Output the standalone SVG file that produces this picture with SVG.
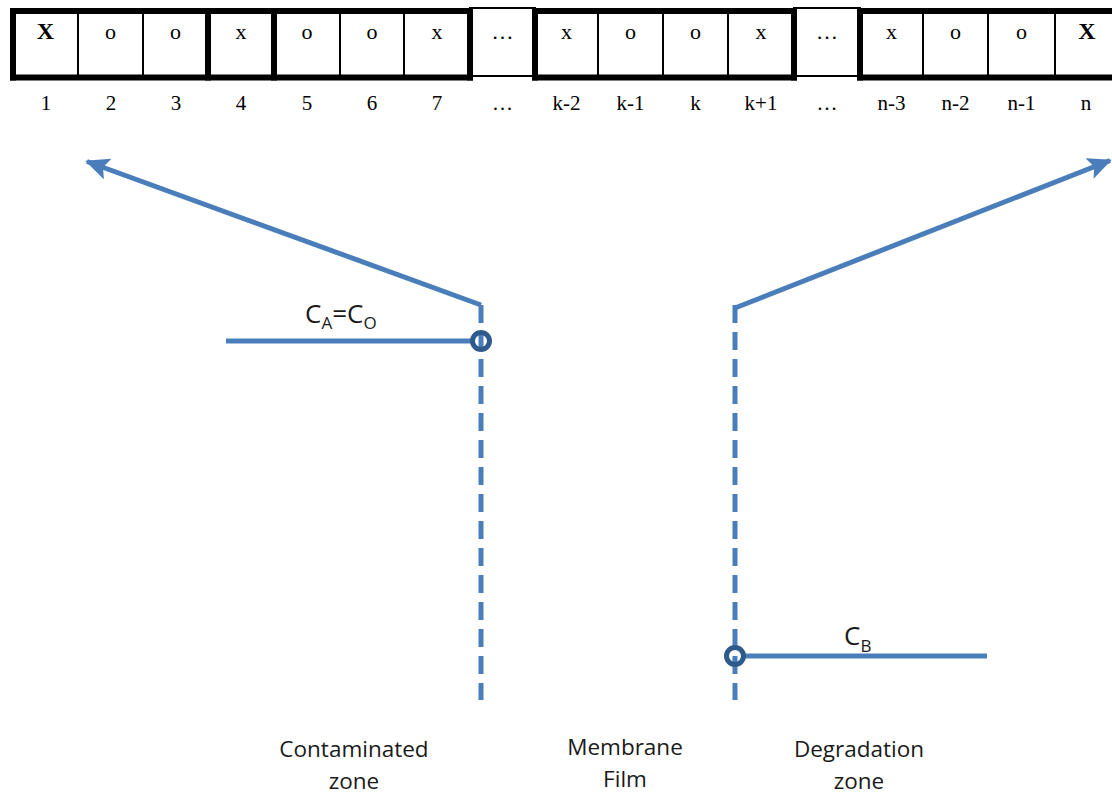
<svg xmlns="http://www.w3.org/2000/svg" width="1112" height="794" viewBox="0 0 1112 794">
<style>
.thick{stroke:#000;stroke-width:6;fill:none}
.thin{stroke:#000;stroke-width:2;fill:none}
.cell{font-family:"Liberation Serif",serif;font-size:22px;fill:#000;text-anchor:middle}
.bold{font-weight:bold;font-size:24px}
.lbl{font-family:"Liberation Serif",serif;font-size:21px;fill:#000;text-anchor:middle}
.blue{stroke:#4a7ebb;stroke-width:5;fill:none}
.dash{stroke:#4a7ebb;stroke-width:5;fill:none;stroke-dasharray:18 9}
.ring{stroke:#2f5b8c;stroke-width:5;fill:none}
.cal{font-family:"Open Sans","Noto Sans",sans-serif;fill:#1a1a1a}
.zone{font-family:"Open Sans","Noto Sans",sans-serif;font-size:22.5px;fill:#1a1a1a;text-anchor:middle}
</style>
<defs>
<marker id="ah" markerUnits="userSpaceOnUse" markerWidth="24" markerHeight="22" refX="22" refY="11" orient="auto" viewBox="0 0 24 22">
<path d="M0,0 L24,11 L0,22 L5,11 Z" fill="#4a7ebb"/>
</marker>
</defs>
<rect width="1112" height="794" fill="#fff"/>
<g id="table">
<rect x="470" y="8" width="65" height="68" class="thin"/>
<rect x="794" y="8" width="66" height="68" class="thin"/>
<line x1="10" y1="11" x2="473" y2="11" class="thick"/>
<line x1="10" y1="77.5" x2="473" y2="77.5" class="thick"/>
<line x1="532" y1="11" x2="797" y2="11" class="thick"/>
<line x1="532" y1="77.5" x2="797" y2="77.5" class="thick"/>
<line x1="857" y1="11" x2="1112" y2="11" class="thick"/>
<line x1="857" y1="77.5" x2="1112" y2="77.5" class="thick"/>
<g class="thick">
<line x1="13" y1="8" x2="13" y2="80.5"/>
<line x1="208" y1="8" x2="208" y2="80.5"/>
<line x1="274" y1="8" x2="274" y2="80.5"/>
<line x1="470" y1="8" x2="470" y2="80.5"/>
<line x1="535" y1="8" x2="535" y2="80.5"/>
<line x1="794" y1="8" x2="794" y2="80.5"/>
<line x1="860" y1="8" x2="860" y2="80.5"/>
</g>
<g class="thin">
<line x1="78" y1="14" x2="78" y2="75"/>
<line x1="143" y1="14" x2="143" y2="75"/>
<line x1="340" y1="14" x2="340" y2="75"/>
<line x1="404" y1="14" x2="404" y2="75"/>
<line x1="598" y1="14" x2="598" y2="75"/>
<line x1="663" y1="14" x2="663" y2="75"/>
<line x1="728" y1="14" x2="728" y2="75"/>
<line x1="923" y1="14" x2="923" y2="75"/>
<line x1="988" y1="14" x2="988" y2="75"/>
<line x1="1055" y1="14" x2="1055" y2="75"/>
</g>
</g>
<g id="cell-1"><text x="45.5" y="39" class="cell bold">X</text><text x="46" y="110" class="lbl">1</text></g>
<g id="cell-2"><text x="110.5" y="39" class="cell">o</text><text x="111" y="110" class="lbl">2</text></g>
<g id="cell-3"><text x="175.5" y="39" class="cell">o</text><text x="176" y="110" class="lbl">3</text></g>
<g id="cell-4"><text x="241" y="39" class="cell">x</text><text x="241" y="110" class="lbl">4</text></g>
<g id="cell-5"><text x="307" y="39" class="cell">o</text><text x="307" y="110" class="lbl">5</text></g>
<g id="cell-6"><text x="372" y="39" class="cell">o</text><text x="372" y="110" class="lbl">6</text></g>
<g id="cell-7"><text x="437" y="39" class="cell">x</text><text x="437" y="110" class="lbl">7</text></g>
<g id="cell-dots1"><text x="502.5" y="39" class="cell">…</text><text x="502.5" y="110" class="lbl">…</text></g>
<g id="cell-k-2"><text x="566.5" y="39" class="cell">x</text><text x="566.5" y="110" class="lbl">k-2</text></g>
<g id="cell-k-1"><text x="630.5" y="39" class="cell">o</text><text x="630.5" y="110" class="lbl">k-1</text></g>
<g id="cell-k"><text x="695.5" y="39" class="cell">o</text><text x="695.5" y="110" class="lbl">k</text></g>
<g id="cell-k+1"><text x="761" y="39" class="cell">x</text><text x="761" y="110" class="lbl">k+1</text></g>
<g id="cell-dots2"><text x="827" y="39" class="cell">…</text><text x="827" y="110" class="lbl">…</text></g>
<g id="cell-n-3"><text x="891.5" y="39" class="cell">x</text><text x="891.5" y="110" class="lbl">n-3</text></g>
<g id="cell-n-2"><text x="955.5" y="39" class="cell">o</text><text x="955.5" y="110" class="lbl">n-2</text></g>
<g id="cell-n-1"><text x="1021.5" y="39" class="cell">o</text><text x="1021.5" y="110" class="lbl">n-1</text></g>
<g id="cell-n"><text x="1087" y="39" class="cell bold">X</text><text x="1086" y="110" class="lbl">n</text></g>
<g id="connectors">
<line x1="481" y1="305" x2="87" y2="161.5" class="blue" marker-end="url(#ah)"/>
<line x1="481" y1="305" x2="481" y2="700" class="dash"/>
<line x1="226" y1="341" x2="475" y2="341" class="blue"/>
<line x1="735" y1="308" x2="1110" y2="160.5" class="blue" marker-end="url(#ah)"/>
<line x1="735" y1="305" x2="735" y2="700" class="dash"/>
<line x1="741" y1="656" x2="987" y2="656" class="blue"/>
</g>
<g id="point-a"><circle cx="481" cy="341" r="8.5" class="ring"/></g>
<g id="point-b"><circle cx="735" cy="656" r="8.5" class="ring"/></g>
<g id="label-ca"><text x="305" y="323" class="cal" font-size="26">C<tspan font-size="17" dy="6">A</tspan><tspan dy="-6">=C</tspan><tspan font-size="17" dy="6">O</tspan></text></g>
<g id="label-cb"><text x="844" y="645" class="cal" font-size="26">C<tspan font-size="17" dy="7">B</tspan></text></g>
<g id="zone-contaminated"><text x="354" y="757" class="zone">Contaminated</text><text x="354" y="789" class="zone">zone</text></g>
<g id="membrane-film"><text x="625" y="755" class="zone">Membrane</text><text x="625" y="787" class="zone">Film</text></g>
<g id="zone-degradation"><text x="859" y="757" class="zone">Degradation</text><text x="859" y="789" class="zone">zone</text></g>
</svg>
